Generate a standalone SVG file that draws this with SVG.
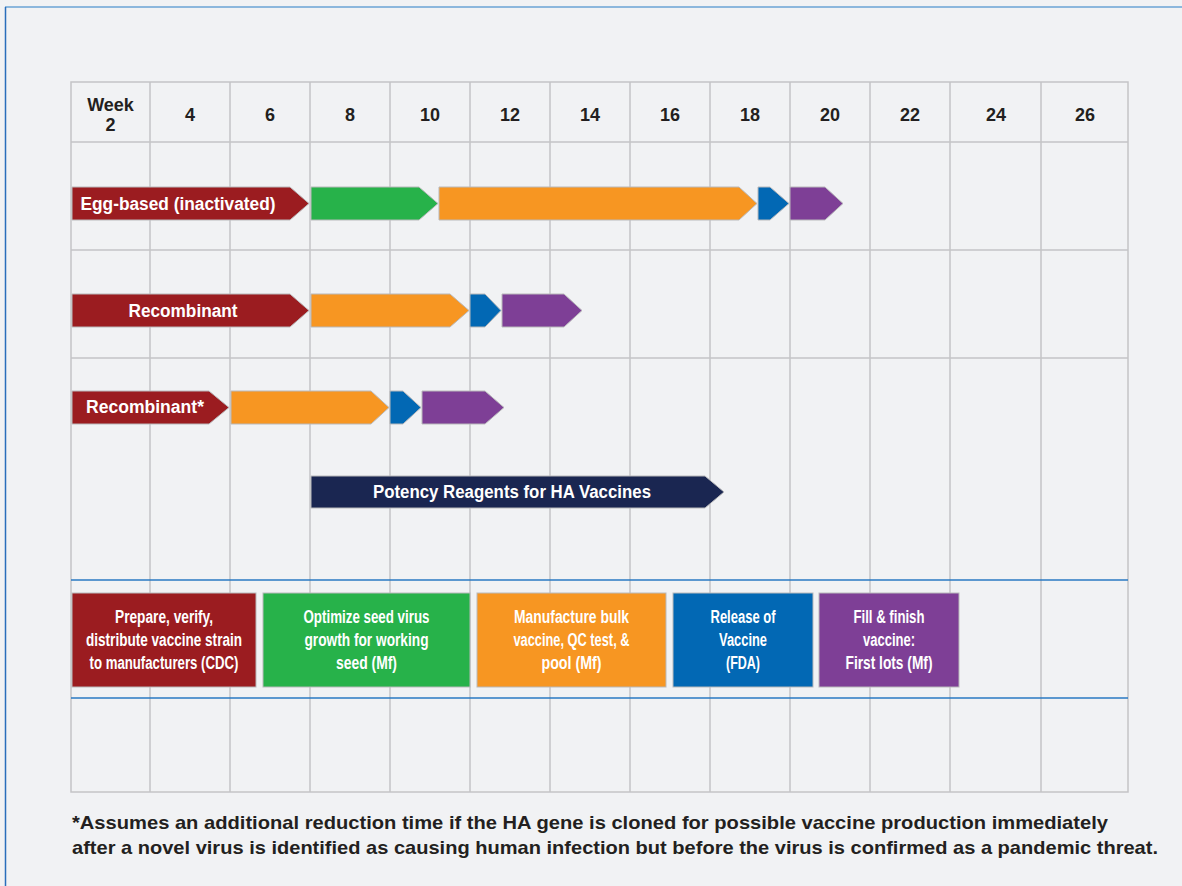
<svg xmlns="http://www.w3.org/2000/svg" width="1182" height="886" viewBox="0 0 1182 886">
<style>
.grid{stroke:#c4c4c6;stroke-width:1.5;fill:none}
.blue{stroke:#2a79c2;stroke-width:1.5;fill:none}
.hdr{font-family:"Liberation Sans",Arial,sans-serif;font-weight:bold;font-size:18px;fill:#231f20;text-anchor:middle}
.lbl{font-family:"Liberation Sans",Arial,sans-serif;font-weight:bold;font-size:17.5px;fill:#ffffff;text-anchor:middle}
.box{font-family:"Liberation Sans Narrow","Liberation Sans",Arial,sans-serif;font-weight:bold;font-size:18px;fill:#ffffff;text-anchor:middle}
.note{font-family:"Liberation Sans",Arial,sans-serif;font-weight:bold;font-size:19px;fill:#231f20}
.arr{stroke:#b9b9bb;stroke-width:1}
.red{fill:#9b1c20}.green{fill:#27b24a}.orange{fill:#f79622}.bl{fill:#0268b4}.purple{fill:#7e3f96}.navy{fill:#1a2651}
</style>
<rect x="0" y="0" width="1182" height="886" fill="#f1f2f4"/>
<line x1="5" y1="7" x2="1182" y2="7" stroke="#6aa3d6" stroke-width="1.5"/>
<line x1="5.5" y1="7" x2="5.5" y2="886" stroke="#2a6ebb" stroke-width="1.5"/>
<g id="grid">
<rect x="71" y="82" width="1057" height="710" fill="#ffffff" class="grid"/>
<path class="grid" d="M150,82V792M230,82V792M310,82V792M390,82V792M470,82V792M550,82V792M630,82V792M710,82V792M790,82V792M870,82V792M950,82V792M1041,82V792M71,142H1128M71,250H1128M71,358H1128"/>
<path class="blue" d="M71,580H1128M71,698H1128"/>
</g>
<g id="header">
<text class="hdr" x="110.5" y="111">Week</text>
<text class="hdr" x="110.5" y="131">2</text>
<text class="hdr" x="190" y="121">4</text>
<text class="hdr" x="270" y="121">6</text>
<text class="hdr" x="350" y="121">8</text>
<text class="hdr" x="430" y="121">10</text>
<text class="hdr" x="510" y="121">12</text>
<text class="hdr" x="590" y="121">14</text>
<text class="hdr" x="670" y="121">16</text>
<text class="hdr" x="750" y="121">18</text>
<text class="hdr" x="830" y="121">20</text>
<text class="hdr" x="910" y="121">22</text>
<text class="hdr" x="996" y="121">24</text>
<text class="hdr" x="1085" y="121">26</text>
</g>
<g id="egg-based">
<path class="arr red" d="M72,187H290L309,203.5L290,220H72Z"/>
<path class="arr green" d="M311,187H419L438,203.5L419,220H311Z"/>
<path class="arr orange" d="M439,187H739L757,203.5L739,220H439Z"/>
<path class="arr bl" d="M758,187H770L789,203.5L770,220H758Z"/>
<path class="arr purple" d="M790,187H825L843,203.5L825,220H790Z"/>
<text class="lbl" x="178" y="210" textLength="195" lengthAdjust="spacingAndGlyphs">Egg-based (inactivated)</text>
</g>
<g id="recombinant">
<path class="arr red" d="M72,294H290L309,310.5L290,327H72Z"/>
<path class="arr orange" d="M311,294H450L469,310.5L450,327H311Z"/>
<path class="arr bl" d="M470,294H485L501,310.5L485,327H470Z"/>
<path class="arr purple" d="M502,294H564L582,310.5L564,327H502Z"/>
<text class="lbl" x="183" y="317" textLength="109" lengthAdjust="spacingAndGlyphs">Recombinant</text>
</g>
<g id="recombinant-star">
<path class="arr red" d="M72,391H209L229,407.5L209,424H72Z"/>
<path class="arr orange" d="M231,391H371L389,407.5L371,424H231Z"/>
<path class="arr bl" d="M390,391H403L421,407.5L403,424H390Z"/>
<path class="arr purple" d="M422,391H485L504,407.5L485,424H422Z"/>
<text class="lbl" x="145" y="413" textLength="118" lengthAdjust="spacingAndGlyphs">Recombinant*</text>
</g>
<g id="potency">
<path class="arr navy" d="M311,476H705L724,492L705,508H311Z"/>
<text class="lbl" x="512" y="498" textLength="278" lengthAdjust="spacingAndGlyphs">Potency Reagents for HA Vaccines</text>
</g>
<g id="legend-cdc">
<rect class="arr red" x="72" y="593" width="184" height="94"/>
<text class="box" x="164" y="623" textLength="98" lengthAdjust="spacingAndGlyphs">Prepare, verify,</text>
<text class="box" x="164" y="646" textLength="156" lengthAdjust="spacingAndGlyphs">distribute vaccine strain</text>
<text class="box" x="164" y="669" textLength="149" lengthAdjust="spacingAndGlyphs">to manufacturers (CDC)</text>
</g>
<g id="legend-seed">
<rect class="arr green" x="263" y="593" width="207" height="94"/>
<text class="box" x="366.5" y="623" textLength="126" lengthAdjust="spacingAndGlyphs">Optimize seed virus</text>
<text class="box" x="366.5" y="646" textLength="124" lengthAdjust="spacingAndGlyphs">growth for working</text>
<text class="box" x="366.5" y="669" textLength="61" lengthAdjust="spacingAndGlyphs">seed (Mf)</text>
</g>
<g id="legend-bulk">
<rect class="arr orange" x="477" y="593" width="189" height="94"/>
<text class="box" x="571.5" y="623" textLength="115" lengthAdjust="spacingAndGlyphs">Manufacture bulk</text>
<text class="box" x="571.5" y="646" textLength="116" lengthAdjust="spacingAndGlyphs">vaccine, QC test, &amp;</text>
<text class="box" x="571.5" y="669" textLength="60" lengthAdjust="spacingAndGlyphs">pool (Mf)</text>
</g>
<g id="legend-release">
<rect class="arr bl" x="673" y="593" width="140" height="94"/>
<text class="box" x="743" y="623" textLength="65" lengthAdjust="spacingAndGlyphs">Release of</text>
<text class="box" x="743" y="646" textLength="48" lengthAdjust="spacingAndGlyphs">Vaccine</text>
<text class="box" x="743" y="669" textLength="34" lengthAdjust="spacingAndGlyphs">(FDA)</text>
</g>
<g id="legend-fill">
<rect class="arr purple" x="819" y="593" width="140" height="94"/>
<text class="box" x="889" y="623" textLength="71" lengthAdjust="spacingAndGlyphs">Fill &amp; finish</text>
<text class="box" x="889" y="646" textLength="52" lengthAdjust="spacingAndGlyphs">vaccine:</text>
<text class="box" x="889" y="669" textLength="87" lengthAdjust="spacingAndGlyphs">First lots (Mf)</text>
</g>
<g id="footnote">
<text class="note" x="72" y="829" textLength="1036" lengthAdjust="spacingAndGlyphs">*Assumes an additional reduction time if the HA gene is cloned for possible vaccine production immediately</text>
<text class="note" x="72" y="854" textLength="1086" lengthAdjust="spacingAndGlyphs">after a novel virus is identified as causing human infection but before the virus is confirmed as a pandemic threat.</text>
</g>
</svg>
